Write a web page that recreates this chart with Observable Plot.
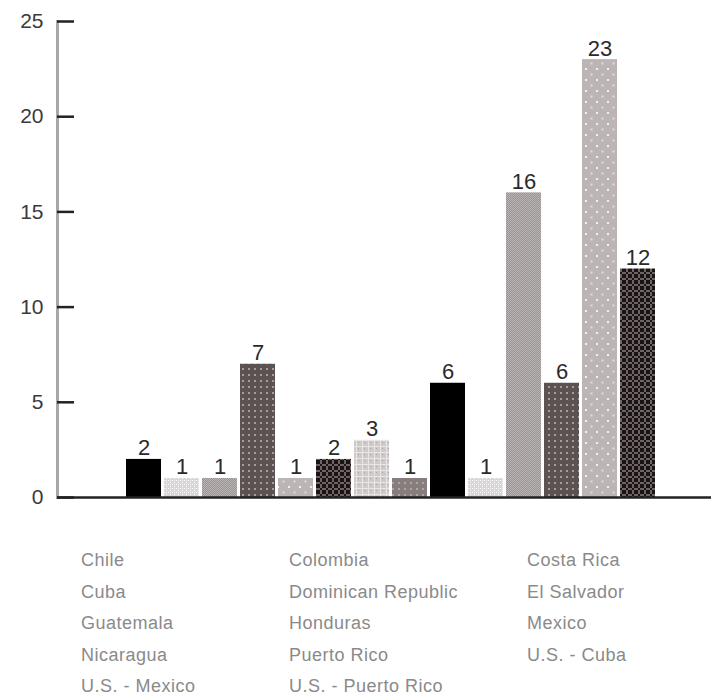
<!DOCTYPE html>
<html>
<head>
<meta charset="utf-8">
<script src="https://cdn.jsdelivr.net/npm/d3@7"></script>
<script src="https://cdn.jsdelivr.net/npm/@observablehq/plot@0.6"></script>
<style>
  html, body { margin: 0; padding: 0; background: #fff; }
  #wrap { position: relative; width: 711px; height: 696px; overflow: hidden; }
  #legend { position: absolute; left: 0; top: 520px; width: 711px; height: 176px;
    font-family: "Liberation Sans", Arial, sans-serif; font-size: 18px; letter-spacing: 0.5px; color: #8a8a8a; }
  #legend .col { position: absolute; top: 25px; line-height: 31.5px; white-space: nowrap; }
</style>
</head>
<body>
<svg width="0" height="0" style="position:absolute">
  <defs>
    <pattern id="pBlack" width="4" height="4" patternUnits="userSpaceOnUse">
      <rect width="4" height="4" fill="#000"/>
    </pattern>
    <pattern id="pVeryLight" width="4" height="4" patternUnits="userSpaceOnUse">
      <rect width="4" height="4" fill="#dad5d5"/>
      <rect x="0" y="0" width="1" height="1" fill="#fff"/>
      <rect x="2" y="2" width="1" height="1" fill="#fff"/>
      <rect x="2" y="0" width="1" height="1" fill="#f4f2f2"/>
    </pattern>
    <pattern id="pMedium" width="2" height="2" patternUnits="userSpaceOnUse">
      <rect width="2" height="2" fill="#9c9494"/>
      <rect x="0" y="0" width="1" height="1" fill="#bab3b3"/>
      <rect x="1" y="1" width="1" height="1" fill="#bab3b3"/>
    </pattern>
    <pattern id="pDarkDots" width="6" height="6" patternUnits="userSpaceOnUse">
      <rect width="6" height="6" fill="#5c5252"/>
      <rect x="2" y="2" width="2" height="2" fill="#a59d9d"/>
    </pattern>
    <pattern id="pLightDots" width="11" height="11" patternUnits="userSpaceOnUse">
      <rect width="11" height="11" fill="#bdb5b5"/>
      <rect x="2" y="2" width="2" height="2" fill="#f2f0f0"/>
      <rect x="7.5" y="7.5" width="2" height="2" fill="#e0dcdc"/>
    </pattern>
    <pattern id="pDarkCross" width="6" height="6" patternUnits="userSpaceOnUse">
      <rect width="6" height="6" fill="#1a1414"/>
      <rect x="2" y="0" width="2" height="6" fill="#6e6464"/>
      <rect x="0" y="2" width="6" height="2" fill="#6e6464"/>
      <rect x="2" y="2" width="2" height="2" fill="#1a1414"/>
    </pattern>
    <pattern id="pLightCross" width="6" height="6" patternUnits="userSpaceOnUse">
      <rect width="6" height="6" fill="#cfc9c9"/>
      <rect x="2" y="0" width="1" height="6" fill="#e8e5e5"/>
      <rect x="0" y="2" width="6" height="1" fill="#e8e5e5"/>
      <rect x="4" y="4" width="1" height="1" fill="#aaa2a2"/>
    </pattern>
    <pattern id="pGrayDots" width="6" height="6" patternUnits="userSpaceOnUse">
      <rect width="6" height="6" fill="#877d7d"/>
      <rect x="2" y="2" width="2" height="2" fill="#aea6a6"/>
    </pattern>
  </defs>
</svg>
<div id="wrap">
  <div id="chart"></div>
  <div id="legend"></div>
</div>
<script>
// ---- Data ----
const countries = [
  "Chile", "Cuba", "Guatemala", "Nicaragua", "U.S. - Mexico",
  "Colombia", "Dominican Republic", "Honduras", "Puerto Rico", "U.S. - Puerto Rico",
  "Costa Rica", "El Salvador", "Mexico", "U.S. - Cuba"
];
const values = [2, 1, 1, 7, 1, 2, 3, 1, 6, 1, 16, 6, 23, 12];
const yTicks = [0, 5, 10, 15, 20, 25];
const legendColumns = [
  ["Chile", "Cuba", "Guatemala", "Nicaragua", "U.S. - Mexico"],
  ["Colombia", "Dominican Republic", "Honduras", "Puerto Rico", "U.S. - Puerto Rico"],
  ["Costa Rica", "El Salvador", "Mexico", "U.S. - Cuba"]
];

// ---- Styles (patterns per bar) ----
const patternCycle = ["pBlack", "pVeryLight", "pMedium", "pDarkDots", "pLightDots",
  "pDarkCross", "pLightCross", "pGrayDots"];
const barFills = countries.map((c, i) => `url(#${patternCycle[i % patternCycle.length]})`);

const data = countries.map((country, i) => ({country, value: values[i]}));

const chart = Plot.plot({
  width: 711,
  height: 520,
  marginLeft: 57,
  marginRight: 0,
  marginTop: 21,
  marginBottom: 23,
  style: {background: "#fff", fontFamily: "'Liberation Sans', Arial, sans-serif"},
  x: {domain: countries, range: [125, 656], paddingInner: 0.08, paddingOuter: 0, axis: null},
  y: {domain: [0, 25], axis: null},
  color: {domain: countries, range: barFills},
  marks: [
    Plot.frame({anchor: "left", stroke: "#a8a8a8", strokeWidth: 3}),
    Plot.axisY({
      ticks: yTicks,
      tickSize: -17,
      tickPadding: 31,
      stroke: "#222",
      strokeWidth: 2.5,
      fontSize: 21,
      fill: "#3a3a3a",
      label: null
    }),
    Plot.barY(data, {x: "country", y: "value", fill: "country"}),
    Plot.ruleY([0], {stroke: "#222", strokeWidth: 2.5}),
    Plot.text(data, {
      x: "country", y: "value", text: d => String(d.value),
      lineAnchor: "bottom", dy: -4, fontSize: 22, fill: "#2a2a2a"
    })
  ]
});
document.getElementById("chart").appendChild(chart);

// ---- Legend (labels only, as in the original) ----
const legend = document.getElementById("legend");
const colLefts = [81, 289, 527];
legendColumns.forEach((col, i) => {
  const div = document.createElement("div");
  div.className = "col";
  div.style.left = colLefts[i] + "px";
  col.forEach(name => {
    const line = document.createElement("div");
    line.textContent = name;
    div.appendChild(line);
  });
  legend.appendChild(div);
});
</script>
</body>
</html>
